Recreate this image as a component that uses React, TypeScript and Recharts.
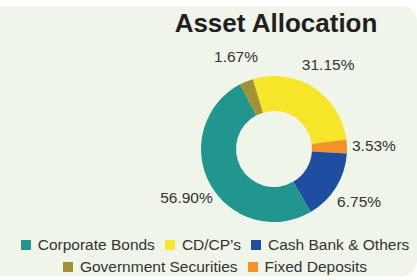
import React from 'react';
import { PieChart, Pie, Cell, Legend } from 'recharts';

// slice shares as drawn (clockwise from the top), and the printed labels
const categories = ['CD/CP’s', 'Fixed Deposits', 'Cash Bank & Others', 'Corporate Bonds', 'Government Securities'];
const shares = [27.6, 3.1, 15.6, 50.7, 3.0];
const labelTexts = ['31.15%', '3.53%', '6.75%', '56.90%', '1.67%'];
const sliceColors = ['#f7e62a', '#f4922a', '#1f4ea1', '#21968f', '#a09335'];
const legendOrder = ['Corporate Bonds', 'CD/CP’s', 'Cash Bank & Others', 'Government Securities', 'Fixed Deposits'];

const data = categories.map((name, i) => ({ name, value: shares[i], label: labelTexts[i] }));

const FONT = '"Liberation Sans", Arial, sans-serif';
const RAD = Math.PI / 180;

const renderLabel = (props: any) => {
  const { cx, cy, midAngle, index } = props;
  const r = 100;
  const x = cx + r * Math.cos(-midAngle * RAD);
  const y = cy + r * Math.sin(-midAngle * RAD);
  return (
    <text x={x} y={y} textAnchor="middle" dominantBaseline="central" fill="#333" fontSize={15.5} fontFamily={FONT}>
      {labelTexts[index]}
    </text>
  );
};

const LegendContent = () => (
  <div style={{ display: 'flex', flexWrap: 'wrap', justifyContent: 'center', columnGap: 10, fontFamily: FONT, fontSize: 15.5, lineHeight: '22px', color: '#333' }}>
    {legendOrder.map((name) => (
      <div key={name} style={{ display: 'flex', alignItems: 'center', whiteSpace: 'nowrap' }}>
        <span style={{ width: 10, height: 10, marginRight: 7, background: sliceColors[categories.indexOf(name)] }} />
        {name}
      </div>
    ))}
  </div>
);

export default function App() {
  return (
    <div style={{ position: 'absolute', left: 0, top: 0, width: 417, height: 280, overflow: 'hidden', background: '#fff' }}>
      <div style={{ position: 'absolute', left: -20, top: 6, width: 437, height: 270, borderRadius: 16, background: '#eff5e8' }} />
      <div style={{ position: 'absolute', left: 0, top: 8, width: 552, textAlign: 'center', fontFamily: FONT, fontWeight: 'bold', fontSize: 26, lineHeight: '30px', color: '#231f20' }}>
        Asset Allocation
      </div>
      <div style={{ position: 'absolute', left: 0, top: 0 }}>
        <PieChart width={417} height={280}>
          <Pie
            data={data}
            dataKey="value"
            nameKey="name"
            cx={269}
            cy={144}
            innerRadius={38}
            outerRadius={73}
            startAngle={106.9}
            endAngle={-253.1}
            stroke="none"
            label={renderLabel}
            labelLine={false}
            isAnimationActive={false}
          >
            {data.map((d, i) => (
              <Cell key={d.name} fill={sliceColors[i]} />
            ))}
          </Pie>
          <Legend content={<LegendContent />} wrapperStyle={{ left: 0, top: 234, width: 430 }} />
        </PieChart>
      </div>
    </div>
  );
}
